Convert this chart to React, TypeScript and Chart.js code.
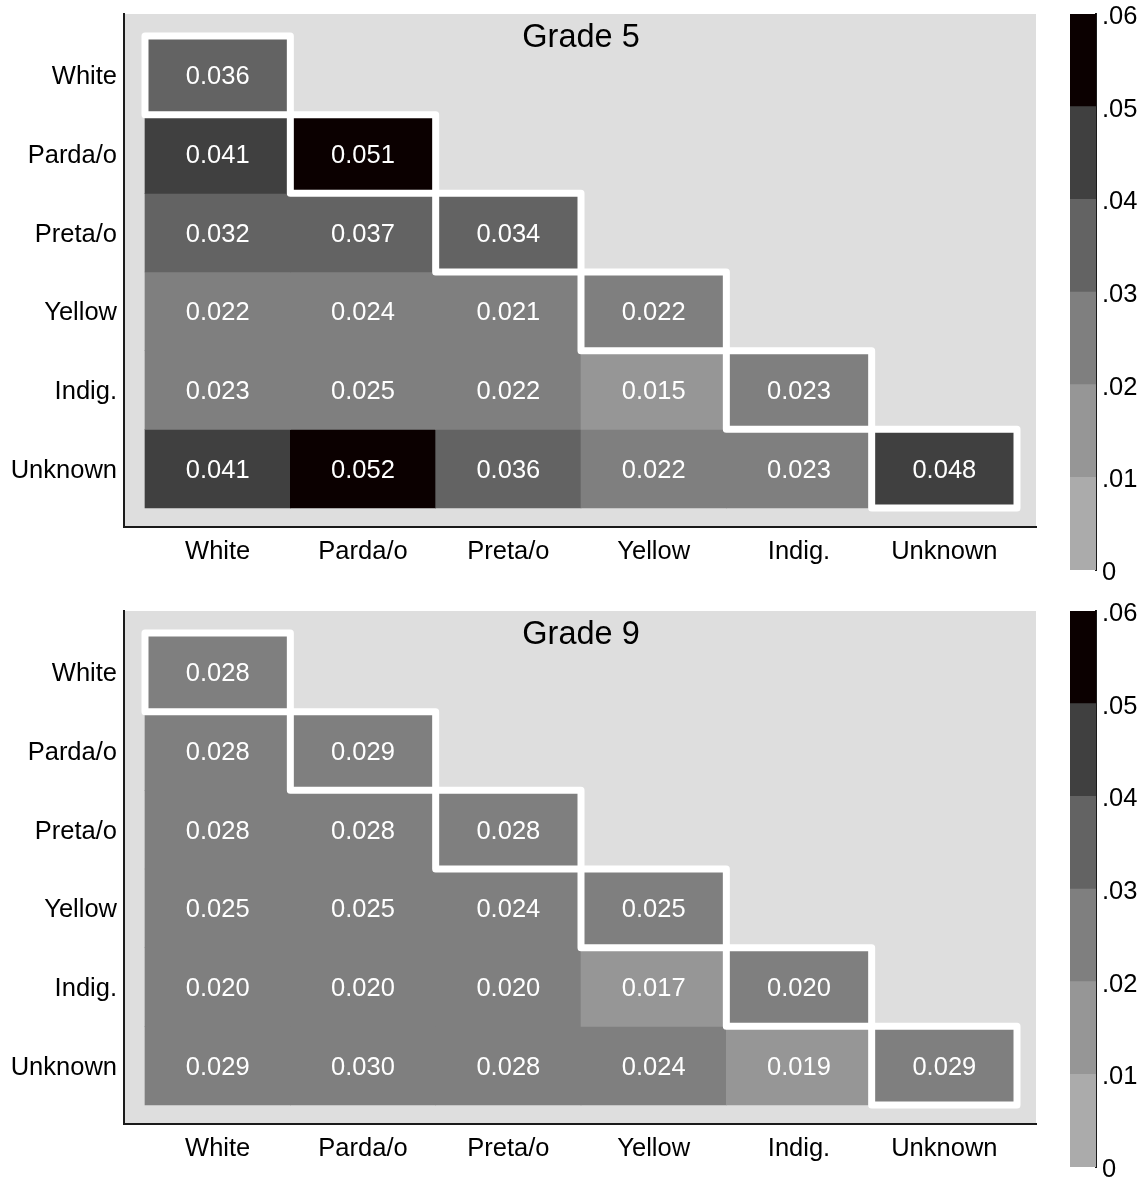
import React, { useEffect, useRef } from 'react';
import { Chart, registerables } from 'chart.js';

Chart.register(...registerables);

// Ethnic-racial groups (rows and columns of the lower-triangular matrix)
const groups = ['White', 'Parda/o', 'Preta/o', 'Yellow', 'Indig.', 'Unknown'];

// Grade 5: row i holds the values for columns 0..i
const grade5Rows: number[][] = [
  [0.036],
  [0.041, 0.051],
  [0.032, 0.037, 0.034],
  [0.022, 0.024, 0.021, 0.022],
  [0.023, 0.025, 0.022, 0.015, 0.023],
  [0.041, 0.052, 0.036, 0.022, 0.023, 0.048],
];

// Grade 9 (the Unknown x Parda/o estimate sits just under .03 and prints as 0.030)
const grade9Rows: number[][] = [
  [0.028],
  [0.028, 0.029],
  [0.028, 0.028, 0.028],
  [0.025, 0.025, 0.024, 0.025],
  [0.020, 0.020, 0.020, 0.017, 0.020],
  [0.029, 0.0298, 0.028, 0.024, 0.019, 0.029],
];

const panelTitles = ['Grade 5', 'Grade 9'];

// Colour legend: bin edges, their tick labels and the grey for each bin
const binEdges = [0, 0.01, 0.02, 0.03, 0.04, 0.05, 0.06];
const binLabels = ['0', '.01', '.02', '.03', '.04', '.05', '.06'];
const binColors = ['#ababab', '#969696', '#7f7f7f', '#636363', '#404040', '#0b0000'];

const FONT = "'Liberation Sans', Arial, Helvetica, sans-serif";
const LABEL_SIZE = 25.5;
const PANEL_H = 597;
const HEAT_W = 1040;
const BAR_LEFT = 1040;
const BAR_W = 104;

function colorFor(v: number): string {
  let k = 0;
  while (k < binColors.length - 1 && v >= binEdges[k + 1] - 1e-9) k++;
  return binColors[k];
}

function HeatPanel({ rows, title, top }: { rows: number[][]; title: string; top: number }) {
  const ref = useRef<HTMLCanvasElement>(null);

  useEffect(() => {
    const canvas = ref.current;
    if (!canvas) return;

    const datasets = rows.map((row, i) => ({
      label: groups[i],
      data: row.map((_, j) => ({ x: j, y: [i - 0.5, i + 0.5] })),
      backgroundColor: row.map(colorFor),
      borderWidth: 0,
      grouped: false,
      barPercentage: 1,
      categoryPercentage: 1,
    }));

    const decor = {
      id: 'heatDecor',
      beforeDraw(chart: any) {
        const { ctx, chartArea } = chart;
        ctx.save();
        ctx.fillStyle = '#dedede';
        ctx.fillRect(chartArea.left, chartArea.top, chartArea.right - chartArea.left, chartArea.bottom - chartArea.top);
        ctx.restore();
      },
      afterDatasetsDraw(chart: any) {
        const { ctx, chartArea } = chart;
        const xs = chart.scales.x;
        const ys = chart.scales.y;
        ctx.save();
        // white frame around each diagonal (within-group) cell
        ctx.strokeStyle = '#ffffff';
        ctx.lineWidth = 7;
        ctx.lineJoin = 'round';
        rows.forEach((_, i) => {
          const x0 = xs.getPixelForValue(i - 0.5);
          const x1 = xs.getPixelForValue(i + 0.5);
          const y0 = ys.getPixelForValue(i - 0.5);
          const y1 = ys.getPixelForValue(i + 0.5);
          ctx.strokeRect(x0, y0, x1 - x0, y1 - y0);
        });
        // cell values
        ctx.fillStyle = '#ffffff';
        ctx.font = `${LABEL_SIZE}px ${FONT}`;
        ctx.textAlign = 'center';
        ctx.textBaseline = 'middle';
        rows.forEach((row, i) => {
          const meta = chart.getDatasetMeta(i);
          row.forEach((v, j) => {
            const p = meta.data[j].getCenterPoint();
            ctx.fillText(v.toFixed(3), p.x, p.y + 2);
          });
        });
        // panel title inside the plot area
        ctx.fillStyle = '#000000';
        ctx.font = `32.5px ${FONT}`;
        ctx.textBaseline = 'alphabetic';
        ctx.fillText(title, (chartArea.left + chartArea.right) / 2 + 1, chartArea.top + 33);
        ctx.restore();
      },
    };

    const chart = new Chart(canvas, {
      type: 'bar',
      data: { datasets: datasets as any },
      options: {
        animation: false,
        responsive: false,
        events: [],
        layout: { padding: { left: 0, top: 14, right: HEAT_W - 1036, bottom: 0 } },
        plugins: { legend: { display: false }, tooltip: { enabled: false }, title: { display: false } },
        scales: {
          x: {
            type: 'linear',
            offset: false,
            min: -0.6445,
            max: 5.6307,
            afterBuildTicks: (s: any) => {
              s.ticks = groups.map((_, k) => ({ value: k }));
            },
            afterFit: (s: any) => {
              s.height = PANEL_H - 527;
              s.paddingLeft = 0;
              s.paddingRight = 0;
            },
            ticks: {
              autoSkip: false,
              maxRotation: 0,
              padding: 10,
              color: '#000',
              font: { family: FONT, size: LABEL_SIZE },
              callback: (v: any) => groups[v as number] ?? '',
            },
            grid: { display: false, drawTicks: false },
            border: { display: true, color: '#1a1a1a', width: 2 },
          },
          y: {
            type: 'linear',
            reverse: true,
            min: -0.78,
            max: 5.7415,
            afterBuildTicks: (s: any) => {
              s.ticks = groups.map((_, k) => ({ value: k }));
            },
            afterFit: (s: any) => {
              s.width = 124;
              s.paddingTop = 0;
              s.paddingBottom = 0;
            },
            ticks: {
              autoSkip: false,
              padding: 7,
              labelOffset: 2,
              color: '#000',
              font: { family: FONT, size: LABEL_SIZE },
              callback: (v: any) => groups[v as number] ?? '',
            },
            grid: { display: false, drawTicks: false },
            border: { display: true, color: '#1a1a1a', width: 2 },
          },
        },
      } as any,
      plugins: [decor],
    });
    return () => chart.destroy();
  }, [rows, title]);

  return (
    <canvas
      ref={ref}
      width={HEAT_W}
      height={PANEL_H}
      style={{ position: 'absolute', left: 0, top, width: HEAT_W, height: PANEL_H }}
    />
  );
}

function ColorBar({ top }: { top: number }) {
  const ref = useRef<HTMLCanvasElement>(null);

  useEffect(() => {
    const canvas = ref.current;
    if (!canvas) return;
    const datasets = binColors.map((c, k) => ({
      data: [[binEdges[k], binEdges[k + 1]]],
      backgroundColor: c,
      borderWidth: 0,
      grouped: false,
      barPercentage: 1,
      categoryPercentage: 1,
    }));
    const chart = new Chart(canvas, {
      type: 'bar',
      data: { labels: [''], datasets: datasets as any },
      options: {
        animation: false,
        responsive: false,
        events: [],
        layout: { padding: { left: 30, top: 14, right: 0, bottom: PANEL_H - 570 } },
        plugins: { legend: { display: false }, tooltip: { enabled: false } },
        scales: {
          x: { display: false },
          y: {
            position: 'right',
            min: binEdges[0],
            max: binEdges[binEdges.length - 1],
            afterBuildTicks: (s: any) => {
              s.ticks = binEdges.map((v) => ({ value: v }));
            },
            afterFit: (s: any) => {
              s.width = BAR_W - 30 - 26;
              s.paddingTop = 0;
              s.paddingBottom = 0;
            },
            ticks: {
              autoSkip: false,
              padding: 6,
              labelOffset: 3,
              color: '#000',
              font: { family: FONT, size: LABEL_SIZE },
              callback: (_v: any, i: number) => binLabels[i],
            },
            grid: { display: false, drawTicks: false },
            border: { display: true, color: '#1a1a1a', width: 2 },
          },
        },
      } as any,
    });
    return () => chart.destroy();
  }, []);

  return (
    <canvas
      ref={ref}
      width={BAR_W}
      height={PANEL_H}
      style={{ position: 'absolute', left: BAR_LEFT, top, width: BAR_W, height: PANEL_H }}
    />
  );
}

export default function App() {
  const panels = [grade5Rows, grade9Rows];
  return (
    <div style={{ position: 'absolute', left: 0, top: 0, width: 1144, height: 1178, background: '#ffffff' }}>
      {panels.map((rows, k) => (
        <React.Fragment key={panelTitles[k]}>
          <HeatPanel rows={rows} title={panelTitles[k]} top={k * PANEL_H} />
          <ColorBar top={k * PANEL_H} />
        </React.Fragment>
      ))}
    </div>
  );
}
